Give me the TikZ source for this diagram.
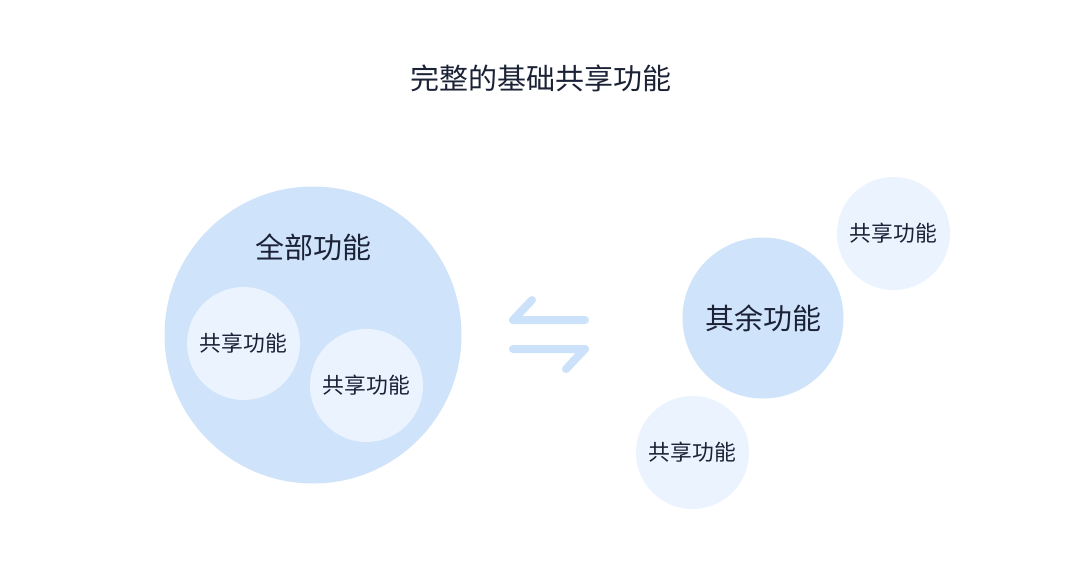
\documentclass[tikz,border=0pt]{standalone}
\usepackage{fontspec}
\newfontfamily\cjk{Noto Sans CJK SC}
\usepackage{xcolor}
\definecolor{mybig}{HTML}{CFE3FA}
\definecolor{mysmall}{HTML}{EAF3FE}
\definecolor{mytext}{HTML}{1B2236}
\definecolor{myarrow}{HTML}{CCE2FA}
\tikzset{
  label text/.style={text=mytext,font=\cjk\fontsize{29}{31}\selectfont},
  small text/.style={text=mytext,font=\cjk\fontsize{21.8}{24}\selectfont},
  bigcirc/.style={circle,fill=mybig,draw=none,inner sep=0},
  smallcirc/.style={circle,fill=mysmall,draw=none,inner sep=0,minimum size=113pt,small text},
  swap line/.style={myarrow,line width=8pt,line cap=round,line join=round}
}
\begin{document}
\begin{tikzpicture}[x=1pt,y=-1pt]
  \useasboundingbox[fill=white] (0,0) rectangle (1082,576);
  % Title
  \node[label text] (title) at (541,78) {完整的基础共享功能};
  % Left group
  \node[bigcirc,minimum size=297pt] (whole) at (313,335) {};
  \node[label text] (wholelabel) at (313,247) {全部功能};
  \node[smallcirc] (shareA) at (243.5,343.5) {共享功能};
  \node[smallcirc] (shareB) at (366.5,385.5) {共享功能};
  % Swap symbol
  \coordinate (topR) at (585,320);
  \coordinate (topL) at (513,320);
  \coordinate (topH) at (532,300);
  \coordinate (botL) at (513,349);
  \coordinate (botR) at (585,349);
  \coordinate (botH) at (566,369);
  \draw[swap line] (topR) -- (topL) -- (topH);
  \draw[swap line] (botL) -- (botR) -- (botH);
  % Right group
  \node[bigcirc,minimum size=161pt,label text] (rest) at (763,318) {其余功能};
  \node[smallcirc] (shareC) at (893.5,233.5) {共享功能};
  \node[smallcirc] (shareD) at (692.5,452.5) {共享功能};
\end{tikzpicture}
\end{document}
